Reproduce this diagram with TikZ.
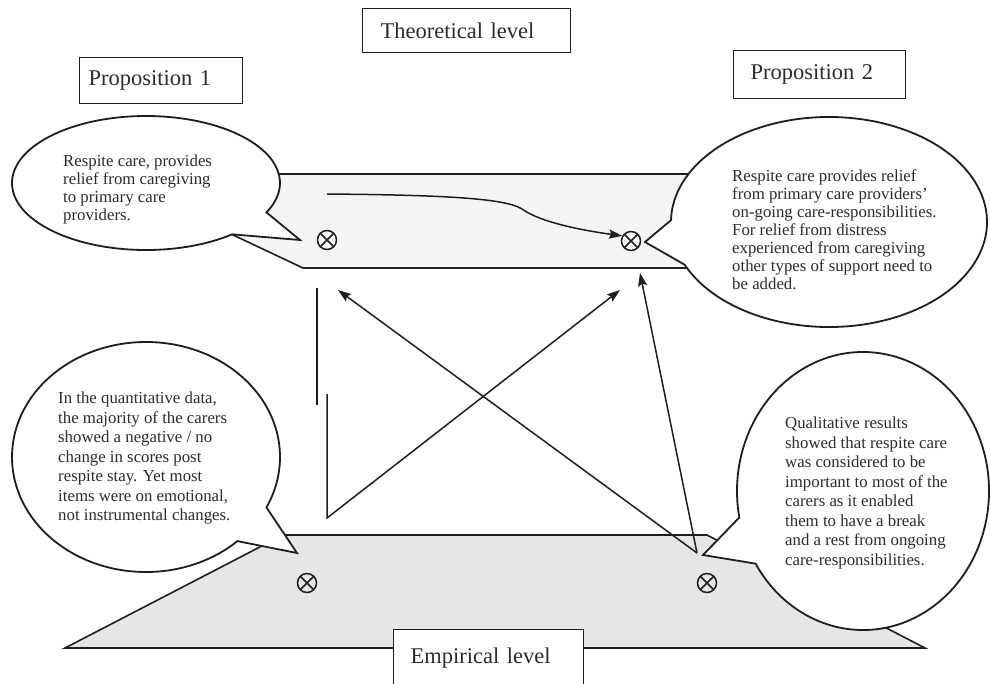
\documentclass[tikz,border=0pt]{standalone}
\usepackage{fontspec}
\setmainfont{Liberation Serif}
\usetikzlibrary{arrows.meta,calc}

\definecolor{ink}{HTML}{1E1E1E}
\definecolor{txt}{HTML}{2C2C2C}
\definecolor{planeT}{HTML}{F5F5F5}
\definecolor{planeB}{HTML}{E6E6E6}

\begin{document}
\begin{tikzpicture}[x=1pt,y=1pt,
  plane/.style={draw=ink, line width=1.6pt, line join=miter},
  label box/.style={draw=ink, line width=1.4pt, fill=white, text=txt,
    font=\fontsize{22.5}{26}\selectfont, align=left, anchor=north west, inner ysep=0pt},
  bubble/.style={draw=ink, line width=1.8pt, fill=white, line join=miter},
  bubble text/.style={text=txt, align=left, anchor=north west, inner sep=0pt},
  tight/.style={font=\fontsize{16.8}{18}\selectfont},
  loose/.style={font=\fontsize{16.8}{19.5}\selectfont},
  otimes/.style={circle, draw=ink, line width=1.5pt, minimum size=19pt, inner sep=0pt,
    path picture={\draw[ink, line width=1.5pt]
      (path picture bounding box.center) +(45:11pt) -- +(225:11pt)
      (path picture bounding box.center) +(135:11pt) -- +(-45:11pt);}},
  link/.style={draw=ink, line width=1.5pt, -{Stealth[length=13pt,width=9pt,inset=2pt]}},
  bar/.style={draw=ink, line width=1.5pt},
]
\useasboundingbox (0,0) rectangle (990,-683);

% the two levels
\filldraw[plane, fill=planeT] (104,-174) -- (770,-174) -- (770,-268) -- (303,-268) -- cycle;
\filldraw[plane, fill=planeB] (283,-535) -- (707,-535) -- (925,-648) -- (65,-648) -- cycle;

% the four positions
\node[otimes] (t1) at (327,-240) {};
\node[otimes] (t2) at (631,-241) {};
\node[otimes] (e1) at (307,-583) {};
\node[otimes] (e2) at (707,-583) {};

% connections between the levels
\coordinate (cs) at (327,-194);
\coordinate (src) at (697,-553);
\coordinate (hA) at (338,-290);
\coordinate (hB) at (640,-273);
\coordinate (hC) at (620,-290);
\coordinate (v1a) at (317,-288);
\coordinate (v1b) at (317,-405);
\coordinate (v2a) at (327,-394);
\coordinate (v2b) at (327,-518);

\draw[link] (cs) .. controls (440,-195) and (505,-198) .. (522,-209)
  .. controls (540,-222) and (580,-230) .. (t2.150);
\draw[bar] (v1a) -- (v1b);
\draw[link] (v2a) -- (v2b) -- (hC);
\draw[link] (src) -- (hA);
\draw[link] (src) -- (hB);

% speech bubbles
\coordinate (c1) at (146,-183);
\coordinate (c2) at (829,-222);
\coordinate (c3) at (146,-457);
\coordinate (c4) at (863,-491);

\filldraw[bubble] ($(c1)+(-26:134 and 67)$) -- (300,-240) -- ($(c1)+(-50:134 and 67)$)
  arc[start angle=-50, end angle=-386, x radius=134, y radius=67] -- cycle;
\filldraw[bubble] ($(c2)+(179:158 and 105)$) -- (645,-242) -- ($(c2)+(204:158 and 105)$)
  arc[start angle=204, end angle=539, x radius=158, y radius=105] -- cycle;
\filldraw[bubble] ($(c3)+(-26:134 and 115)$) -- (297,-553) -- ($(c3)+(-47:134 and 115)$)
  arc[start angle=-47, end angle=-386, x radius=134, y radius=115] -- cycle;
\filldraw[bubble] ($(c4)+(191:126 and 139)$) -- (703,-555) -- ($(c4)+(211.5:126 and 139)$)
  arc[start angle=211.5, end angle=551, x radius=126, y radius=139] -- cycle;

\node[bubble text, tight] (b1) at (63,-155) {Respite care, provides\\relief from caregiving\\to primary care\\providers.};
\node[bubble text, tight] (b2) at (732,-169) {Respite care provides relief\\from primary care providers’\\on-going care-responsibilities.\\For relief from distress\\experienced from caregiving\\other types of support need to\\be added.};
\node[bubble text, loose] (b3) at (58,-392) {In the quantitative data,\\the majority of the carers\\showed a negative / no\\change in scores post\\respite stay. Yet most\\items were on emotional,\\not instrumental changes.};
\node[bubble text, loose] (b4) at (785,-417) {Qualitative results\\showed that respite care\\was considered to be\\important to most of the\\carers as it enabled\\them to have a break\\and a rest from ongoing\\care-responsibilities.};

% labels
\node[label box, text width=172pt, inner xsep=18pt, minimum height=44pt] (theo) at (362,-8) {Theoretical level};
\node[label box, text width=145pt, inner xsep=9pt, minimum height=46pt] (p1) at (79,-57) {Proposition 1};
\node[label box, text width=138pt, inner xsep=17pt, minimum height=48pt] (p2) at (733,-50) {Proposition 2};
\node[label box, text width=156pt, inner xsep=17pt, minimum height=56pt] (emp) at (393,-629) {Empirical level};
\end{tikzpicture}
\end{document}
